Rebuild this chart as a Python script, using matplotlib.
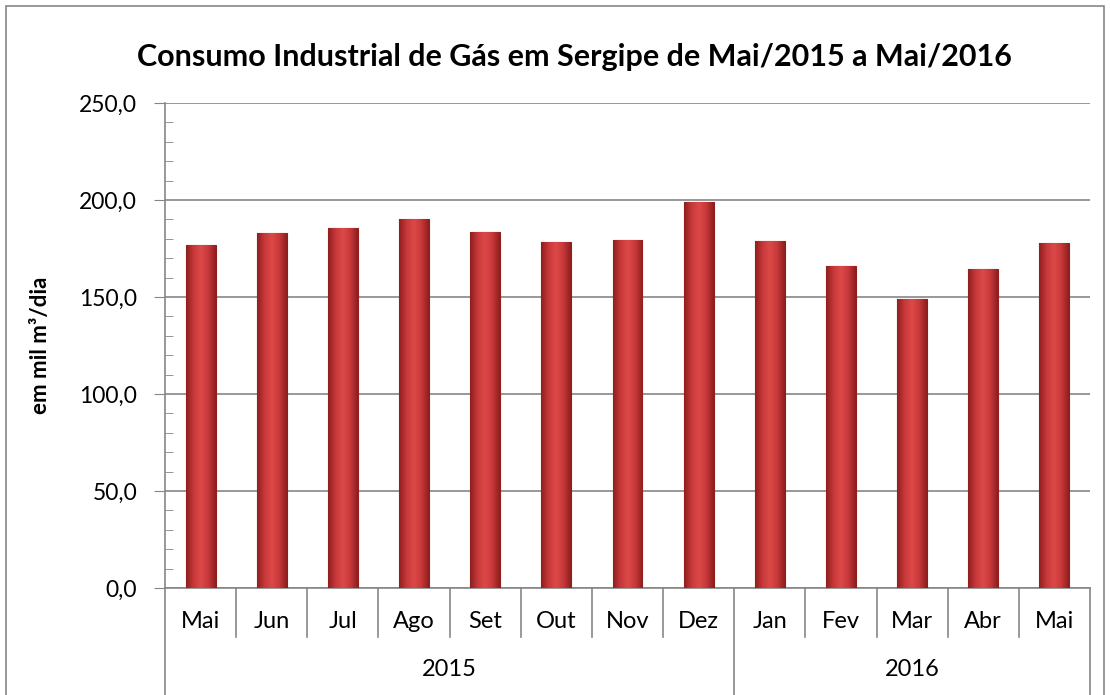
import numpy as np
import matplotlib.pyplot as plt
from matplotlib.patches import Rectangle
from matplotlib.colors import LinearSegmentedColormap
import matplotlib.transforms as mtransforms

# ---- data ----
months = ['Mai', 'Jun', 'Jul', 'Ago', 'Set', 'Out', 'Nov', 'Dez',
          'Jan', 'Fev', 'Mar', 'Abr', 'Mai']
years = ['2015', '2016']
year_counts = [8, 5]
consumo = [176.8, 183.1, 185.7, 190.4, 183.7, 178.5, 179.2, 199.1,
           179.0, 166.1, 149.0, 164.6, 177.7]

title = 'Consumo Industrial de Gás em Sergipe de Mai/2015 a Mai/2016'
ylabel = 'em mil m³/dia'

plt.rcParams['font.family'] = ['Lato', 'DejaVu Sans']
grid_c = '#868686'

W, H = 1110, 695
fig = plt.figure(figsize=(W / 100, H / 100), dpi=100)
fig.patch.set_facecolor('white')

# outer chart border
fig.add_artist(Rectangle((6 / W, -0.1), 1098 / W, 1.1 - 6 / H,
                         transform=fig.transFigure, fill=False,
                         edgecolor=grid_c, linewidth=1.2))

ax = fig.add_axes([165 / W, 1 - 588 / H, 925 / W, 485 / H])
x = np.arange(len(months))

# ---- bars with horizontal gradient ----
cmap = LinearSegmentedColormap.from_list(
    'red', ['#8E1F1E', '#C8383A', '#DC4A48', '#C8383A', '#8E1F1E'])
grad = np.linspace(0, 1, 64).reshape(1, -1)
bars = ax.bar(x, consumo, width=0.42, color='#C8383A', edgecolor='#8E1F1E',
              linewidth=0.8, zorder=3)
for b in bars:
    im = ax.imshow(grad, cmap=cmap, aspect='auto', zorder=3.5,
                   extent=[b.get_x(), b.get_x() + b.get_width(), 0, b.get_height()])
    im.set_clip_path(b)
ax.set_xlim(-0.5, len(months) - 0.5)
ax.set_ylim(0, 250)

# ---- y axis ----
ax.set_yticks(np.arange(0, 251, 50))
ax.set_yticklabels([f'{v:.1f}'.replace('.', ',') for v in np.arange(0, 251, 50)])
ax.set_yticks(np.arange(0, 251, 10), minor=True)
ax.tick_params(axis='y', which='major', length=8, color=grid_c, labelsize=16.5,
               pad=12, direction='out')
ax.tick_params(axis='y', which='minor', length=6, color=grid_c, direction='in')
ax.yaxis.grid(True, which='major', color=grid_c, linewidth=1.2, zorder=0)
ax.set_axisbelow(True)
for s in ['top', 'right']:
    ax.spines[s].set_visible(False)
for s in ['left', 'bottom']:
    ax.spines[s].set_color(grid_c)
    ax.spines[s].set_linewidth(1.2)

ax.set_ylabel(ylabel, fontsize=16, fontweight='bold')
ax.yaxis.set_label_coords(-114 / 925, 0.5)

# ---- multi-level category axis ----
ax.set_xticks([])
trans = mtransforms.blended_transform_factory(ax.transData, ax.transAxes)
short = 49 / 485
long_ = 110 / 485
bounds = np.cumsum([0] + year_counts) - 0.5
for i in range(len(months) + 1):
    xb = i - 0.5
    d = long_ if xb in bounds else short
    ax.plot([xb, xb], [0, -d], transform=trans, color=grid_c, lw=1.2,
            clip_on=False)
for i, m in enumerate(months):
    ax.text(i, -33 / 485, m, transform=trans, ha='center', va='center',
            fontsize=17)
for j, yr in enumerate(years):
    ax.text((bounds[j] + bounds[j + 1]) / 2, -82 / 485, yr, transform=trans,
            ha='center', va='center', fontsize=17)

fig.text(574 / W, 1 - 57 / H, title, ha='center', va='center',
         fontsize=22, fontweight='bold')

fig.savefig('out.png', dpi=100)
